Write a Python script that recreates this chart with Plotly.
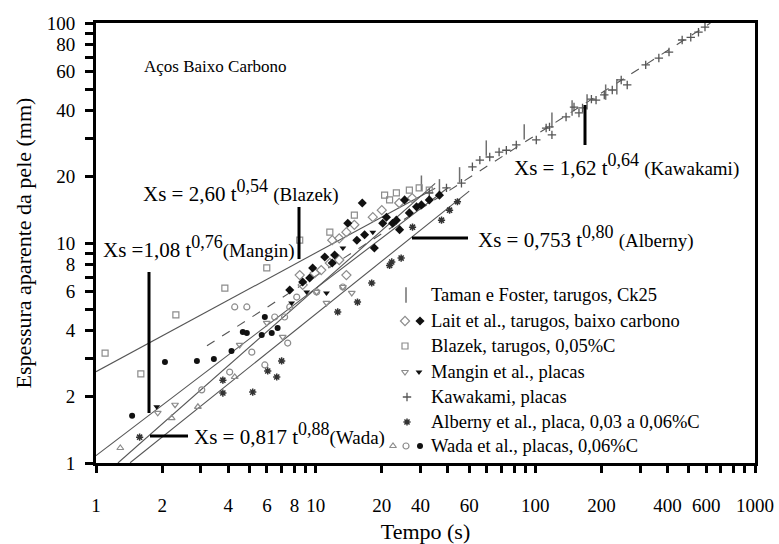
import plotly.graph_objects as go

# ---------------- data (time s, apparent shell thickness mm) ----------------
taman_t = [30.3, 36.6, 45.2, 59.8, 89.0, 119, 147, 172, 209, 235]
taman_x = [18.7, 18.0, 20.4, 27.0, 32.0, 36.2, 41.1, 43.8, 48.5, 51.3]

lait_open_t = [8.46, 8.73, 9.90, 10.6, 11.6, 12.8, 13.8, 11.9, 12.8, 13.8, 15.0, 18.2, 20.0, 24.0, 27.5]
lait_open_x = [7.15, 6.45, 7.30, 7.53, 8.11, 8.37, 7.15, 10.3, 10.5, 11.2, 12.1, 13.1, 14.1, 15.2, 16.0]
lait_fill_t = [7.62, 8.73, 9.39, 9.69, 11.0, 11.9, 12.2, 14.0, 15.4, 16.3, 16.7, 18.5, 20.2, 21.0,
               22.4, 23.3, 24.1, 25.4, 26.7, 28.8, 30.3, 32.9, 36.6]
lait_fill_x = [6.11, 6.65, 6.93, 7.70, 8.64, 8.11, 8.82, 12.3, 10.3, 15.2, 10.9, 9.49, 12.3, 13.1,
               12.3, 12.7, 11.5, 15.7, 13.7, 14.6, 14.9, 15.7, 16.5]

blazek_t = [1.10, 1.60, 2.31, 3.86, 5.99, 8.46, 11.6, 15.0, 20.6, 21.7, 23.3, 26.7, 29.6, 32.9]
blazek_x = [3.16, 2.54, 4.71, 6.24, 7.70, 10.3, 11.2, 13.4, 16.5, 15.7, 16.9, 17.4, 17.8, 17.4]

mangin_open_t = [1.91, 2.29, 4.51, 5.99, 7.08, 10.1, 11.2, 13.3, 14.6]
mangin_open_x = [1.69, 1.84, 3.44, 4.33, 3.74, 5.99, 5.34, 6.31, 5.93]
mangin_fill_t = [1.89, 7.77, 9.10, 11.2, 13.3, 18.2]
mangin_fill_x = [1.80, 5.34, 5.99, 5.93, 9.49, 11.2]

kawakami_t = [32.9, 39.4, 46.1, 51.7, 55.9, 62.0, 68.4, 73.8, 81.9, 101, 112, 116, 119, 138, 150,
              158, 164, 180, 189, 206, 224, 246, 262, 318, 365, 406, 466, 510, 553, 592]
kawakami_x = [16.9, 17.8, 18.7, 22.2, 23.8, 24.6, 25.9, 26.4, 27.9, 29.4, 33.3, 33.7, 31.0, 37.4, 41.5,
              39.0, 41.1, 45.1, 44.6, 47.1, 49.6, 55.1, 52.3, 64.5, 69.3, 73.8, 83.7, 86.1, 90.8, 95.8]

alberny_t = [1.58, 3.78, 3.78, 5.17, 6.05, 6.65, 7.0, 12.6, 15.5, 18.0, 21.7, 22.2, 24.5, 27.6, 37.4, 40.7, 44.2]
alberny_x = [1.31, 2.38, 2.08, 2.10, 2.62, 2.46, 2.91, 4.86, 5.39, 6.58, 7.9, 8.20, 8.54, 11.8, 12.7, 14.1, 15.4]

wada_tri_t = [1.29, 2.21, 2.91, 4.28]
wada_tri_x = [1.17, 1.60, 1.80, 2.46]
wada_open_t = [3.03, 4.06, 4.28, 4.86, 5.12, 5.87, 6.51, 7.22, 7.46, 7.62, 8.20, 10.1, 13.3]
wada_open_x = [2.15, 2.59, 5.12, 5.12, 3.19, 2.79, 4.61, 4.61, 3.51, 5.12, 5.68, 5.99, 6.31]
wada_fill_t = [1.46, 2.06, 2.88, 3.44, 4.14, 4.66, 4.86, 5.68, 5.87, 6.31, 6.71]
wada_fill_x = [1.64, 2.88, 2.91, 2.97, 3.23, 3.94, 3.90, 3.82, 4.61, 3.90, 4.11]

# fitted power laws Xs = a * t^b, drawn between t_start and t_end
fit_names = ["Blazek", "Mangin", "Wada", "Alberny", "Kawakami"]
fit_a = [2.60, 1.08, 0.817, 0.753, 1.62]
fit_b = [0.54, 0.76, 0.88, 0.80, 0.64]
fit_t_start = [1.0, 1.0, 1.258, 1.43, 3.2]
fit_t_end = [35, 40, 35, 50, 627]
fit_dash = ["solid", "solid", "solid", "solid", "dash"]

x_tick_vals = [1, 2, 3, 4, 5, 6, 7, 8, 9, 10, 20, 30, 40, 50, 60, 70, 80, 90, 100,
               200, 300, 400, 500, 600, 700, 800, 900, 1000]
x_tick_text = ["1", "2", "", "4", "", "6", "", "8", "", "10", "20", "40", "", "60", "", "", "", "", "100",
               "200", "", "400", "", "600", "", "", "", "1000"]
y_tick_vals = [1, 2, 3, 4, 5, 6, 7, 8, 9, 10, 20, 30, 40, 50, 60, 70, 80, 90, 100]
y_tick_text = ["1", "2", "", "4", "", "6", "", "8", "", "10", "20", "", "40", "", "60", "", "80", "", "100"]

legend_labels = ["Taman e Foster, tarugos, Ck25",
                 "Lait et al., tarugos, baixo carbono",
                 "Blazek, tarugos, 0,05%C",
                 "Mangin et al., placas",
                 "Kawakami, placas",
                 "Alberny et al., placa, 0,03 a 0,06%C",
                 "Wada et al., placas, 0,06%C"]

# ---------------- styles ----------------
GRAY = "#8c8c8c"
DARK = "#111111"
FONT = "Liberation Serif"

W, H = 779, 544
ML, MR, MT, MB = 96, 24, 23, 81


def open_m(symbol, size=6, color=GRAY, width=1.2):
    return dict(symbol=symbol, size=size, color=color, line=dict(color=color, width=width))


def fill_m(symbol, size=6):
    return dict(symbol=symbol, size=size, color=DARK, line=dict(color=DARK, width=0))


sty = {
    "taman": open_m("line-ns-open", 11, "#707070", 1.5),
    "lait_open": open_m("diamond-open", 7),
    "lait_fill": fill_m("diamond", 7),
    "blazek": open_m("square-open", 6),
    "mangin_open": open_m("triangle-down-open", 6),
    "mangin_fill": fill_m("triangle-down", 6),
    "kawakami": open_m("cross-thin-open", 6, "#555555", 1.3),
    "alberny": open_m("asterisk-open", 6, "#333333", 1.5),
    "wada_tri": open_m("triangle-up-open", 6),
    "wada_open": open_m("circle-open", 6),
    "wada_fill": fill_m("circle", 6),
}

fig = go.Figure()

# fitted lines
for name, a, b, t0, t1, dash in zip(fit_names, fit_a, fit_b, fit_t_start, fit_t_end, fit_dash):
    ts = [t0, t1]
    fig.add_trace(go.Scatter(x=ts, y=[a * t ** b for t in ts], mode="lines",
                             line=dict(color="#555", width=1.1, dash=dash),
                             showlegend=False, hoverinfo="skip"))

series = [
    (taman_t, taman_x, "taman"),
    (blazek_t, blazek_x, "blazek"),
    (lait_open_t, lait_open_x, "lait_open"),
    (wada_open_t, wada_open_x, "wada_open"),
    (wada_tri_t, wada_tri_x, "wada_tri"),
    (mangin_open_t, mangin_open_x, "mangin_open"),
    (kawakami_t, kawakami_x, "kawakami"),
    (alberny_t, alberny_x, "alberny"),
    (lait_fill_t, lait_fill_x, "lait_fill"),
    (mangin_fill_t, mangin_fill_x, "mangin_fill"),
    (wada_fill_t, wada_fill_x, "wada_fill"),
]
for xs, ys, key in series:
    fig.add_trace(go.Scatter(x=xs, y=ys, mode="markers", marker=sty[key], showlegend=False))

# ---------------- legend (drawn on a pixel overlay axis) ----------------
leg_rows_y = [295, 321, 346, 372, 397, 422, 446]
leg_keys = [
    [("taman", 406)],
    [("lait_open", 405), ("lait_fill", 420)],
    [("blazek", 405)],
    [("mangin_open", 405), ("mangin_fill", 419)],
    [("kawakami", 407)],
    [("alberny", 407)],
    [("wada_tri", 393), ("wada_open", 406), ("wada_fill", 420)],
]
for yrow, keys in zip(leg_rows_y, leg_keys):
    for key, xk in keys:
        fig.add_trace(go.Scatter(x=[xk], y=[yrow], xaxis="x2", yaxis="y2", mode="markers",
                                 marker=sty[key], showlegend=False, hoverinfo="skip"))

annotations = []
for yrow, lab in zip(leg_rows_y, legend_labels):
    annotations.append(dict(x=429, y=yrow, xref="x2", yref="y2", text=lab, showarrow=False,
                            xanchor="left", yanchor="middle", font=dict(family=FONT, size=18.5, color="black")))


def eq(a, ex, who, sep=" "):
    return (f"Xs = {a} t<sup><span style='font-size:18px'>{ex}</span></sup>"
            f"{sep}<span style='font-size:19px'>({who})</span>")


annotations += [
    dict(x=142, y=66, text="Aços Baixo Carbono", font=dict(size=17)),
    dict(x=141, y=191, text=eq("2,60", "0,54", "Blazek")),
    dict(x=101, y=247, text=eq("1,08", "0,76", "Mangin", "").replace("Xs = ", "Xs =")),
    dict(x=192, y=434, text=eq("0,817", "0,88", "Wada", "")),
    dict(x=476, y=237, text=eq("0,753", "0,80", "Alberny")),
    dict(x=512, y=165, text=eq("1,62", "0,64", "Kawakami")),
]
for an in annotations[len(legend_labels):]:
    an.update(xref="x2", yref="y2", showarrow=False, xanchor="left", yanchor="middle")
    an.setdefault("font", dict(size=21))
    an["font"].update(family=FONT, color="black")

# leader lines (pixel overlay coords)
leaders = [
    (299, 207, 299, 259),   # Blazek
    (149, 272, 149, 413),   # Mangin
    (150, 436, 188, 436),   # Wada
    (412, 238, 468, 238),   # Alberny
    (585, 105, 585, 145),   # Kawakami
]
shapes = [dict(type="line", xref="x2", yref="y2", x0=a, y0=b, x1=c, y1=d,
               line=dict(color="black", width=3)) for a, b, c, d in leaders]

axis_common = dict(type="log", showgrid=False, zeroline=False, showline=True, linewidth=3,
                   linecolor="black", mirror=True, ticks="outside", tickcolor="black",
                   tickwidth=2.5, automargin=False,
                   tickfont=dict(family=FONT, size=19, color="black"))

fig.update_layout(
    width=W, height=H,
    margin=dict(l=ML, r=MR, t=MT, b=MB, autoexpand=False),
    paper_bgcolor="white", plot_bgcolor="white",
    showlegend=False,
    xaxis=dict(axis_common, range=[0, 3], tickmode="array", tickvals=x_tick_vals, ticktext=x_tick_text,
               ticklen=7, ticklabelstandoff=16,
               title=dict(text="Tempo (s)", font=dict(family=FONT, size=22, color="black"), standoff=19)),
    yaxis=dict(axis_common, range=[0, 2], tickmode="array", tickvals=y_tick_vals, ticktext=y_tick_text,
               ticklen=8, ticklabelstandoff=6,
               title=dict(text="Espessura aparente da pele (mm)",
                          font=dict(family=FONT, size=22, color="black"), standoff=10)),
    xaxis2=dict(overlaying="x", anchor="y2", range=[ML, W - MR], visible=False, fixedrange=True),
    yaxis2=dict(overlaying="y", anchor="x2", range=[H - MB, MT], visible=False, fixedrange=True),
    annotations=annotations,
    shapes=shapes,
    font=dict(family=FONT, color="black"),
)

fig.write_html("out.html")
